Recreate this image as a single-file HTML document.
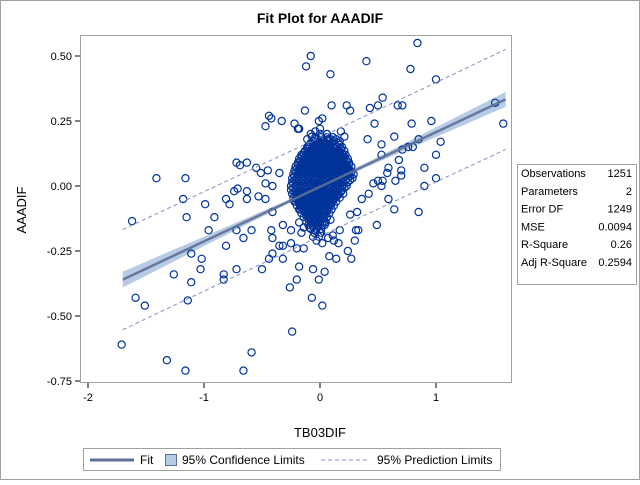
<!DOCTYPE html>
<html><head><meta charset="utf-8"><style>
body{margin:0;background:#fff;font-family:"Liberation Sans",sans-serif}
svg text{font-family:"Liberation Sans",sans-serif}
</style></head><body>
<svg id="chart" width="640" height="480" viewBox="0 0 640 480" xmlns="http://www.w3.org/2000/svg">
<rect x="0.5" y="0.5" width="639" height="479" fill="#fff" stroke="#a0a0a0"/>
<text x="320" y="23" text-anchor="middle" font-size="14" font-weight="bold" fill="#000">Fit Plot for AAADIF</text>
<g id="plot"></g>
<text x="320" y="437" text-anchor="middle" font-size="13">TB03DIF</text>
<text x="26" y="210" text-anchor="middle" font-size="13" transform="rotate(-90 26 210)">AAADIF</text>
<g font-size="11">
<rect x="517.5" y="164.5" width="119" height="120" fill="#fff" stroke="#a0a0a0"/>
<g id="stats"></g>
</g>
<g font-size="12">
<rect x="83.5" y="448.5" width="417" height="22" fill="#fff" stroke="#a0a0a0"/>
<line x1="90" y1="460" x2="134" y2="460" stroke="#5f6f95" stroke-width="3"/>
<text x="140" y="464">Fit</text>
<rect x="165.5" y="454.5" width="11" height="11" fill="#b8cbe5" stroke="#5f6f95"/>
<text x="182" y="464">95% Confidence Limits</text>
<line x1="321" y1="460" x2="369" y2="460" stroke="#8090c8" stroke-dasharray="4,3"/>
<text x="377" y="464">95% Prediction Limits</text>
</g>
</svg>
<script>
const xTicks=[-2,-1,0,1];
const yTicks=[0.5,0.25,0,-0.25,-0.5,-0.75];
const yTickLabels=["0.50","0.25","0.00","-0.25","-0.50","-0.75"];
const statLabels=["Observations","Parameters","Error DF","MSE","R-Square","Adj R-Square"];
const statValues=["1251","2","1249","0.0094","0.26","0.2594"];
const fitIntercept=-0.003;
const fitSlope=0.21;
const rootMSE=0.097;
const nObs=1251;
const sxx=116;
const xMean=0.0;
const fitRange=[-1.7,1.6];
const pointX=[-1.71,-1.62,-1.41,-1.16,-1.59,-1.51,-1.32,-1.16,-1.14,-1.26,-1.11,-1.11,-1.03,-1.02,-1.18,-1.15,-0.99,-0.91,-0.96,-0.81,-0.83,-0.83,-0.72,-0.59,-0.66,-0.50,-0.44,-0.41,-0.32,-0.26,-0.24,-0.72,-0.66,-0.59,-0.81,-0.78,-0.74,-0.71,-0.63,-0.63,-0.53,-0.47,-0.72,-0.69,-0.63,-0.55,-0.51,-0.47,-0.47,-0.44,-0.42,-0.33,-0.19,-0.42,-0.41,-0.35,-0.32,-0.25,-0.32,-0.25,-0.41,-0.45,-0.35,-0.41,
0.84,-0.08,-0.12,0.40,0.09,0.78,1.0,-0.13,0.10,0.23,0.26,0.43,0.50,0.54,0.67,0.71,1.51,1.58,0.96,0.79,1.04,1.0,0.90,1.0,0.90,0.85,0.64,0.59,0.49,0.64,0.85,0.80,0.76,0.71,0.68,0.70,0.70,0.65,0.59,0.58,0.54,0.50,0.53,0.46,0.42,0.36,0.53,0.53,0.47,0.41,0.33,0.31,0.17,0.16,0.14,0.26,0.32,0.04,-0.01,-0.06,-0.18,-0.20,-0.07,0.02,-0.18,-0.20,
0.00,0.02,-0.03,0.05,-0.06,0.08,-0.09,0.11,-0.12,0.14,-0.15,0.17,-0.18,0.20,-0.21,0.23,0.01,-0.02,0.04,-0.05,0.07,-0.08,0.10,-0.11,0.13,-0.14,0.16,-0.17,0.19,-0.20,0.22,0.03,-0.04,0.06,-0.07,0.09,-0.10,0.12,-0.13,0.15,-0.16,0.18,0.00,0.02,-0.01,0.05,-0.03,0.08,-0.06,0.11,-0.09,0.14,-0.12,0.01,-0.02,0.04,-0.05,0.07,-0.08,0.10,-0.11,0.03,-0.04,0.06,0.00,-0.01,0.02,0.09,-0.07,0.12,-0.10,0.05,-0.03,0.15,-0.14,0.18,-0.16,0.21,0.24,-0.22,0.27,-0.19,0.30,0.02,-0.06,0.08,0.13,-0.02,0.04,-0.09];
const pointY=[-0.61,-0.135,0.03,0.03,-0.43,-0.46,-0.67,-0.71,-0.44,-0.34,-0.37,-0.26,-0.32,-0.28,-0.05,-0.12,-0.07,-0.12,-0.17,-0.23,-0.34,-0.36,-0.32,-0.64,-0.71,-0.32,-0.28,-0.26,-0.28,-0.39,-0.56,-0.17,-0.20,-0.17,-0.05,-0.07,-0.02,-0.01,-0.02,-0.05,-0.04,-0.05,0.09,0.08,0.09,0.07,0.05,0.01,0.23,0.27,0.26,0.25,0.22,-0.17,-0.20,-0.23,-0.23,-0.22,-0.15,-0.17,-0.10,0.06,0.05,0.00,
0.55,0.50,0.46,0.48,0.43,0.45,0.41,0.29,0.31,0.31,0.29,0.30,0.31,0.34,0.31,0.31,0.32,0.24,0.25,0.24,0.17,0.12,0.07,0.03,0.00,-0.10,-0.09,-0.05,-0.15,0.19,0.18,0.15,0.15,0.14,0.10,0.06,0.04,0.02,0.07,0.05,0.02,0.02,0.00,0.01,-0.03,-0.05,0.16,0.12,0.24,0.18,-0.17,-0.17,-0.17,-0.22,-0.28,-0.11,-0.10,-0.33,-0.36,-0.32,-0.31,-0.36,-0.43,-0.46,0.22,-0.24,
0.00,0.05,-0.04,0.09,-0.08,0.13,-0.12,0.06,-0.10,0.15,-0.02,0.10,-0.14,0.12,-0.06,0.08,-0.18,0.17,-0.15,0.02,-0.20,0.20,-0.05,0.18,0.04,-0.16,0.06,-0.09,0.10,-0.03,0.04,0.14,0.21,-0.12,0.19,-0.13,0.15,-0.21,0.07,0.01,-0.07,0.11,0.22,-0.22,0.25,0.03,-0.11,0.00,0.16,-0.19,0.07,-0.04,0.12,-0.08,0.09,0.03,-0.13,0.18,-0.02,-0.06,-0.01,0.02,0.06,-0.03,-0.06,0.08,0.13,-0.07,-0.09,0.04,0.11,-0.14,-0.05,0.07,-0.24,0.21,-0.18,0.19,-0.25,0.24,-0.28,0.22,-0.21,0.26,-0.10,-0.27,-0.01,0.03,0.12,-0.16];
// dense core of the cloud, row by row (y value, then x values)
const clusterRowY=[0.18,0.165,0.15,0.135,0.12,0.105,0.09,0.075,0.06,0.045,0.03,0.015,0,-0.015,-0.03,-0.045,-0.06,-0.075,-0.09,-0.105,-0.12,-0.135,-0.15,-0.165,-0.18];
const clusterRowX=[
[-0.02,0.03,0.09,0.14],
[-0.08,-0.03,0.01,0.05,0.10,0.16],
[-0.11,-0.06,-0.02,0.02,0.06,0.11,0.15,0.19],
[-0.13,-0.09,-0.05,-0.01,0.03,0.07,0.12,0.16,0.21],
[-0.16,-0.12,-0.08,-0.04,0.00,0.04,0.08,0.13,0.17,0.22],
[-0.18,-0.14,-0.10,-0.06,-0.02,0.02,0.06,0.10,0.14,0.19,0.24],
[-0.19,-0.15,-0.11,-0.07,-0.03,0.01,0.05,0.09,0.13,0.17,0.21,0.25],
[-0.21,-0.17,-0.13,-0.09,-0.05,-0.01,0.03,0.07,0.11,0.15,0.19,0.23,0.27],
[-0.22,-0.18,-0.14,-0.10,-0.06,-0.02,0.02,0.06,0.10,0.14,0.18,0.22,0.26],
[-0.23,-0.19,-0.15,-0.11,-0.07,-0.03,0.01,0.05,0.09,0.13,0.17,0.21,0.25,0.29],
[-0.24,-0.20,-0.16,-0.12,-0.08,-0.04,0.00,0.04,0.08,0.12,0.16,0.20,0.24,0.28],
[-0.24,-0.20,-0.16,-0.12,-0.08,-0.04,0.00,0.04,0.08,0.12,0.16,0.20,0.24],
[-0.25,-0.21,-0.17,-0.13,-0.09,-0.05,-0.01,0.03,0.07,0.11,0.15,0.19,0.23],
[-0.25,-0.21,-0.17,-0.13,-0.09,-0.05,-0.01,0.03,0.07,0.11,0.15,0.19],
[-0.24,-0.20,-0.16,-0.12,-0.08,-0.04,0.00,0.04,0.08,0.12,0.16,0.20],
[-0.23,-0.19,-0.15,-0.11,-0.07,-0.03,0.01,0.05,0.09,0.13,0.17],
[-0.22,-0.18,-0.14,-0.10,-0.06,-0.02,0.02,0.06,0.10,0.14],
[-0.20,-0.16,-0.12,-0.08,-0.04,0.00,0.04,0.08,0.12],
[-0.18,-0.14,-0.10,-0.06,-0.02,0.02,0.06,0.10],
[-0.16,-0.12,-0.08,-0.04,0.00,0.04,0.08],
[-0.14,-0.10,-0.06,-0.02,0.02,0.06],
[-0.12,-0.08,-0.04,0.00,0.04],
[-0.10,-0.06,-0.02,0.02],
[-0.08,-0.03,0.01],
[-0.05,0.00]];
const clusterRowY2=[0.2,0.1875,0.1725,0.1575,0.1425,0.1275,0.1125,0.0975,0.0825,0.0675,0.0525,0.0375,0.0225,0.0075,-0.0075,-0.0225,-0.0375,-0.0525,-0.0675,-0.0825,-0.0975,-0.1125,-0.1275,-0.1425,-0.1575,-0.1725,-0.195,-0.21];
const clusterRowX2=[
[0.0,0.06],
[-0.04,0.01,0.06,0.11],
[-0.06,-0.01,0.03,0.07,0.12,0.17],
[-0.09,-0.04,0.00,0.04,0.08,0.13,0.17],
[-0.11,-0.07,-0.03,0.01,0.05,0.09,0.14,0.18],
[-0.14,-0.10,-0.06,-0.02,0.02,0.06,0.10,0.15,0.19],
[-0.16,-0.12,-0.08,-0.04,0.00,0.04,0.08,0.12,0.16,0.21],
[-0.17,-0.13,-0.09,-0.05,-0.01,0.03,0.07,0.11,0.15,0.19,0.23],
[-0.19,-0.15,-0.11,-0.07,-0.03,0.01,0.05,0.09,0.13,0.17,0.21,0.25],
[-0.20,-0.16,-0.12,-0.08,-0.04,0.00,0.04,0.08,0.12,0.16,0.20,0.24],
[-0.21,-0.17,-0.13,-0.09,-0.05,-0.01,0.03,0.07,0.11,0.15,0.19,0.23,0.27],
[-0.22,-0.18,-0.14,-0.10,-0.06,-0.02,0.02,0.06,0.10,0.14,0.18,0.22,0.26],
[-0.22,-0.18,-0.14,-0.10,-0.06,-0.02,0.02,0.06,0.10,0.14,0.18,0.22,0.26],
[-0.23,-0.19,-0.15,-0.11,-0.07,-0.03,0.01,0.05,0.09,0.13,0.17,0.21],
[-0.23,-0.19,-0.15,-0.11,-0.07,-0.03,0.01,0.05,0.09,0.13,0.17,0.21],
[-0.22,-0.18,-0.14,-0.10,-0.06,-0.02,0.02,0.06,0.10,0.14,0.18],
[-0.21,-0.17,-0.13,-0.09,-0.05,-0.01,0.03,0.07,0.11,0.15],
[-0.20,-0.16,-0.12,-0.08,-0.04,0.00,0.04,0.08,0.12],
[-0.18,-0.14,-0.10,-0.06,-0.02,0.02,0.06,0.10],
[-0.16,-0.12,-0.08,-0.04,0.00,0.04,0.08],
[-0.14,-0.10,-0.06,-0.02,0.02,0.06],
[-0.12,-0.08,-0.04,0.00,0.04],
[-0.10,-0.06,-0.02,0.02],
[-0.08,-0.04,0.00],
[-0.06,-0.02],
[-0.04],
[-0.06,-0.01],
[-0.03]];

const NS="http://www.w3.org/2000/svg";
const L=80,R=512,T=35,B=383;
const xs=v=>320+v*116;
const ys=v=>186-v*260;
function mk(tag,attrs,parent){const e=document.createElementNS(NS,tag);for(const k in attrs)e.setAttribute(k,attrs[k]);parent.appendChild(e);return e;}
const plot=document.getElementById('plot');
const fr=mk('rect',{x:L+0.5,y:T+0.5,width:R-L-1,height:B-T-1,fill:'#fff',stroke:'#a0a0a0'},plot);


const t975=1.962;
function fitAt(x){return fitIntercept+fitSlope*x;}
function ciHW(x){return t975*rootMSE*Math.sqrt(1/nObs+(x-xMean)*(x-xMean)/sxx);}
function piHW(x){return t975*rootMSE*Math.sqrt(1+1/nObs+(x-xMean)*(x-xMean)/sxx);}
const steps=[];for(let i=0;i<=60;i++)steps.push(fitRange[0]+(fitRange[1]-fitRange[0])*i/60);
let up=steps.map(x=>xs(x)+','+ys(fitAt(x)+ciHW(x)));
let dn=steps.slice().reverse().map(x=>xs(x)+','+ys(fitAt(x)-ciHW(x)));
const band=mk('polygon',{points:up.concat(dn).join(' '),fill:'#b8cbe5'},plot);


const pts=mk('g',{},plot);


function dot(x,y){
 const c=mk('circle',{cx:xs(x),cy:ys(y),r:3.6,fill:'none',stroke:'#003399','stroke-width':1.2},pts);
 
 
}
for(let i=0;i<pointX.length;i++)dot(pointX[i],pointY[i]);
clusterRowY.forEach((y,r)=>{clusterRowX[r].forEach(x=>dot(x,y));});
clusterRowY2.forEach((y,r)=>{clusterRowX2[r].forEach(x=>dot(x,y));});
const fit=mk('line',{x1:xs(fitRange[0]),y1:ys(fitAt(fitRange[0])),x2:xs(fitRange[1]),y2:ys(fitAt(fitRange[1])),stroke:'#5f6f95','stroke-width':2.5,'stroke-opacity':0.9},plot);


[1,-1].forEach(s=>{
 const p=mk('polyline',{points:steps.map(x=>xs(x)+','+ys(fitAt(x)+s*piHW(x))).join(' '),fill:'none',stroke:'#8090c8','stroke-dasharray':'4,3'},plot);
 
 
});
xTicks.forEach(v=>{
 mk('line',{x1:xs(v),y1:B,x2:xs(v),y2:B+5,stroke:'#000'},plot);
 const t=mk('text',{x:xs(v),y:B+18,'text-anchor':'middle','font-size':11},plot);t.textContent=String(v);
 
 
});
yTicks.forEach((v,i)=>{
 mk('line',{x1:L-5,y1:ys(v),x2:L,y2:ys(v),stroke:'#000'},plot);
 const t=mk('text',{x:L-8,y:ys(v)+4,'text-anchor':'end','font-size':11},plot);t.textContent=yTickLabels[i];
 
 
});
const st=document.getElementById('stats');
statLabels.forEach((lab,i)=>{
 const y=177+i*17.8;
 const a=mk('text',{x:521,y:y},st);a.textContent=lab;
 
 
 const b=mk('text',{x:632,y:y,'text-anchor':'end'},st);b.textContent=statValues[i];
 
 
});
</script>
</body></html>
